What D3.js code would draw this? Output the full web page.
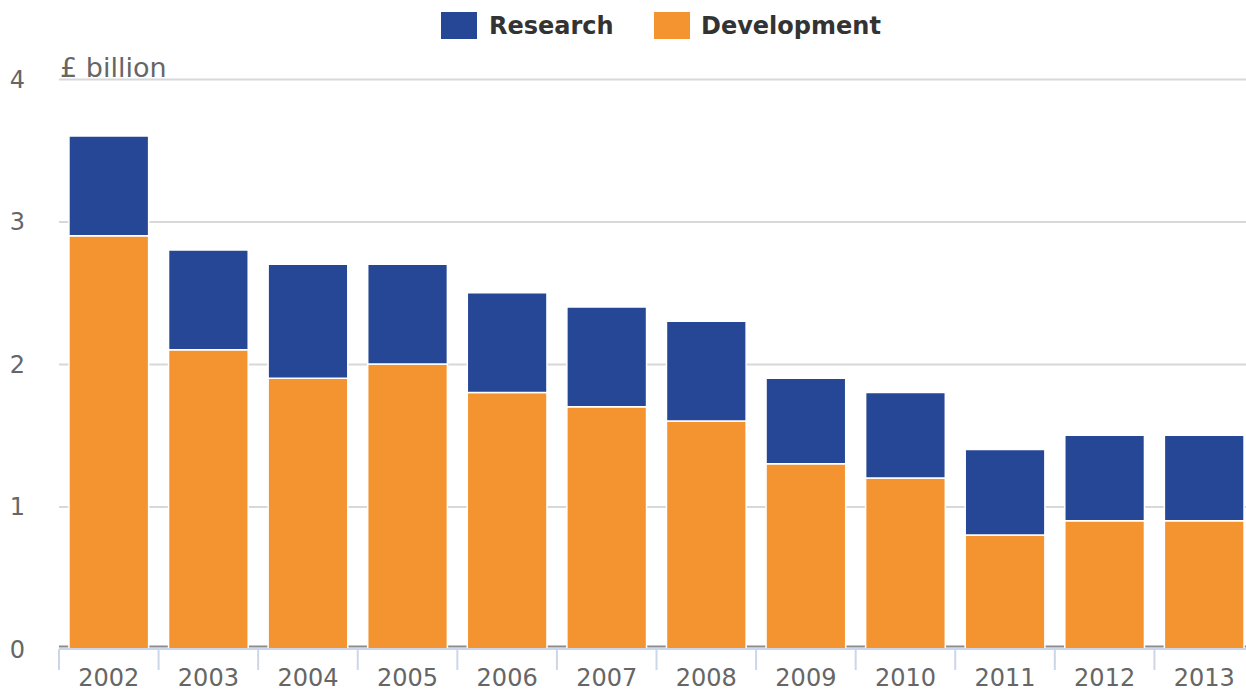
<!DOCTYPE html>
<html>
<head>
<meta charset="utf-8">
<script src="https://cdn.jsdelivr.net/npm/d3@7"></script>
<style>
  body { margin: 0; background: #fff; }
  svg { font-family: "DejaVu Sans", sans-serif; }
</style>
</head>
<body>
<div class="chart"></div>
<script>
// R&D spend, £ billion

var years = ["2002", "2003", "2004", "2005", "2006", "2007", "2008", "2009", "2010", "2011", "2012", "2013"];
var development = [2.9, 2.1, 1.9, 2.0, 1.8, 1.7, 1.6, 1.3, 1.2, 0.8, 0.9, 0.9];
var research = [0.7, 0.7, 0.8, 0.7, 0.7, 0.7, 0.7, 0.6, 0.6, 0.6, 0.6, 0.6];
var yTicks = [0, 1, 2, 3, 4];

var svgWidth = 1246;
var svgHeight = 691;

var margin = { top: 79, right: 0, bottom: 42, left: 59 };
var width = svgWidth - margin.left - margin.right;
var height = svgHeight - margin.top - margin.bottom;

var svg = d3.select(".chart")
    .append("svg")
    .attr("width", svgWidth)
    .attr("height", svgHeight);

var chart = svg.append("g")
    .attr("transform", "translate(" + margin.left + "," + margin.top + ")");

// categories run a little past the right edge, like the original
var xScale = d3.scaleBand()
    .domain(years)
    .range([0, 1195])
    .paddingInner(0.2)
    .paddingOuter(0.1);

var yScale = d3.scaleLinear()
    .domain([0, 4])
    .range([height, 0]);

// gridlines + y labels
var leftAxis = d3.axisLeft(yScale)
    .tickValues(yTicks)
    .tickSize(-width)
    .tickPadding(34)
    .tickFormat(d3.format("d"));

var yAxis = chart.append("g")
    .attr("class", "y-axis")
    .call(leftAxis)
    .attr("font-family", null);

yAxis.select(".domain").remove();
yAxis.selectAll(".tick line")
    .attr("stroke-width", 2)
    .attr("stroke", function(d) { return d === 0 ? "#8c8c8c" : "#d8d8d8"; })
    .attr("transform", function(d) { return d === 0 ? "translate(0,-3)" : null; });
yAxis.selectAll(".tick text")
    .attr("fill", "#666")
    .attr("font-size", "24px")
    .attr("dy", "0.35em");

// y axis title
chart.append("text")
    .attr("x", 1)
    .attr("y", -2)
    .attr("fill", "#666")
    .attr("font-size", "27px")
    .text("£ billion");

// stacked bars
chart.selectAll(".dev")
    .data(years)
    .enter()
    .append("rect")
    .attr("class", "dev")
    .attr("x", function(d) { return xScale(d); })
    .attr("width", xScale.bandwidth())
    .attr("y", function(d, i) { return yScale(development[i]); })
    .attr("height", function(d, i) { return yScale(0) - yScale(development[i]); })
    .attr("fill", "#f39431")
    .attr("stroke", "#fff")
    .attr("stroke-width", 1.5);

chart.selectAll(".res")
    .data(years)
    .enter()
    .append("rect")
    .attr("class", "res")
    .attr("x", function(d) { return xScale(d); })
    .attr("width", xScale.bandwidth())
    .attr("y", function(d, i) { return yScale(development[i] + research[i]); })
    .attr("height", function(d, i) { return yScale(development[i]) - yScale(development[i] + research[i]); })
    .attr("fill", "#264796")
    .attr("stroke", "#fff")
    .attr("stroke-width", 1.5);

// x axis line and boundary ticks
chart.append("line")
    .attr("x1", 0)
    .attr("x2", width)
    .attr("y1", height)
    .attr("y2", height)
    .attr("stroke", "#ccd6eb")
    .attr("stroke-width", 2);

chart.selectAll(".xtick")
    .data(years)
    .enter()
    .append("line")
    .attr("class", "xtick")
    .attr("x1", function(d) { return xScale(d) - xScale.step() * xScale.paddingOuter(); })
    .attr("x2", function(d) { return xScale(d) - xScale.step() * xScale.paddingOuter(); })
    .attr("y1", height)
    .attr("y2", height + 21)
    .attr("stroke", "#ccd6eb")
    .attr("stroke-width", 2);

var bottomAxis = d3.axisBottom(xScale)
    .tickSize(0)
    .tickPadding(20);

var xAxis = chart.append("g")
    .attr("class", "x-axis")
    .attr("transform", "translate(0," + height + ")")
    .call(bottomAxis)
    .attr("font-family", null);

xAxis.select(".domain").remove();
xAxis.selectAll(".tick text")
    .attr("fill", "#666")
    .attr("font-size", "24px");

// legend
var legendItems = [
    { name: "Research", color: "#264796", x: 441, tx: 489 },
    { name: "Development", color: "#f39431", x: 654, tx: 701 }
];

var legend = svg.selectAll(".legend")
    .data(legendItems)
    .enter()
    .append("g")
    .attr("class", "legend");

legend.append("rect")
    .attr("x", function(d) { return d.x; })
    .attr("y", 12)
    .attr("width", 36)
    .attr("height", 27)
    .attr("fill", function(d) { return d.color; });

legend.append("text")
    .attr("x", function(d) { return d.tx; })
    .attr("y", 34)
    .attr("font-size", "24px")
    .attr("font-weight", "bold")
    .attr("fill", "#333")
    .text(function(d) { return d.name; });
</script>
</body>
</html>
